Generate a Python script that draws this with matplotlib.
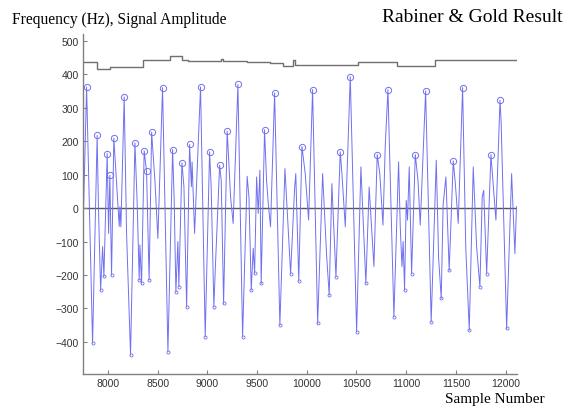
import matplotlib.pyplot as plt

# signal turning points (sample number, amplitude)
sig_x = [7750, 7786, 7846, 7892, 7906, 7927, 7947, 7960, 7993, 8007, 8020, 8037, 8060, 8088, 8114, 8121, 8131,
         8164, 8188, 8228, 8272, 8295, 8315, 8322, 8339, 8365, 8389, 8415, 8440, 8473, 8503, 8550, 8604, 8651,
         8667, 8684, 8704, 8714, 8745, 8765, 8792, 8822, 8840, 8847, 8872, 8932, 8979, 9023, 9039, 9066, 9080,
         9124, 9140, 9164, 9200, 9212, 9234, 9260, 9308, 9355, 9401, 9419, 9442, 9462, 9476, 9496, 9512, 9529,
         9542, 9576, 9596, 9616, 9636, 9677, 9730, 9781, 9798, 9838, 9878, 9890, 9920, 9952, 9985, 10019, 10059,
         10075, 10110, 10160, 10200, 10226, 10253, 10294, 10337, 10354, 10388, 10438, 10502, 10545, 10595, 10628,
         10676, 10709, 10735, 10767, 10790, 10817, 10877, 10924, 10941, 10958, 10970, 10984, 11001, 11014, 11031,
         11055, 11092, 11119, 11142, 11196, 11252, 11303, 11327, 11353, 11372, 11400, 11433, 11474, 11495, 11524,
         11568, 11600, 11635, 11675, 11709, 11742, 11765, 11780, 11810, 11853, 11875, 11903, 11944, 11955, 12011,
         12061, 12094, 12110]
sig_y = [-66, 362, -404, 217, -7, -245, -115, -204, 163, -76, 98, -200, 209, 73, -55, 4, -56,
         332, -76, -439, 195, 13, -215, -110, -225, 171, 110, -215, 227, 83, -91, 360, -429, 175,
         23, -250, -100, -235, 135, 64, -295, 190, 64, 138, -76, 362, -384, 168, 63, -295, -185,
         128, 83, -285, 230, 163, 33, -46, 370, -384, 95, 33, -245, -120, -195, 93, -16, 113,
         -225, 234, 83, 4, -56, 344, -350, 118, 23, -196, 58, 103, -218, 184, 103, -36, 354,
         133, -345, 103, -141, -260, 73, -205, 168, 103, -56, 393, -370, 123, -225, 63,
         -175, 160, 103, -51, 187, 354, -325, 138, -56, -175, -100, -245, 23, -36, 123,
         -196, 160, 83, -51, 350, -340, 143, -151, -270, 10, 93, -186, 141, 73, -46,
         360, -120, -365, 123, -116, -235, 33, 53, -196, 160, 73, -36, 322, 262, -360,
         103, -136, 4]

# peaks that carry a circle
circled = [7786, 7892, 7993, 8020, 8060, 8164, 8272, 8365, 8389, 8440, 8550, 8651, 8745, 8822, 8932,
           9023, 9124, 9200, 9308, 9576, 9677, 9952, 10059, 10337, 10438, 10709, 10817, 11092, 11196,
           11474, 11568, 11853, 11944]

# pitch estimate (step line)
freq_x = [7750, 7886, 8020, 8355, 8624, 8741, 8808, 9140, 9155, 9395, 9630, 9764, 9862, 9878, 10518,
          10904, 11290, 12110]
freq_y = [436, 416, 422, 443, 456, 443, 439, 447, 439, 436, 433, 426, 443, 428, 436, 426, 444, 444]

fig = plt.figure(figsize=(5.71, 4.10), dpi=100)
ax = fig.add_axes([0.1454, 0.0854, 0.760, 0.829])

ax.axhline(0, color='#555555', lw=1.0, zorder=1)
ax.plot(freq_x, freq_y, drawstyle='steps-post', color='#707070', lw=1.0)
ax.plot(sig_x, sig_y, color='#7070f0', lw=0.7, zorder=2)

px = [x for x, y in zip(sig_x, sig_y) if x in circled]
py = [y for x, y in zip(sig_x, sig_y) if x in circled]
ax.plot(px, py, 'o', ms=4.5, mfc='none', mec='#7070f0', mew=0.7, zorder=3)

# small marks at the deep troughs
tx, ty = [], []
for i in range(1, len(sig_y) - 1):
    if sig_y[i] < sig_y[i - 1] and sig_y[i] < sig_y[i + 1] and sig_y[i] < -180:
        tx.append(sig_x[i])
        ty.append(sig_y[i])
ax.plot(tx, ty, 'o', ms=2.2, mfc='none', mec='#7070f0', mew=0.6, zorder=3)

ax.set_xlim(7750, 12115)
ax.set_ylim(-496, 520)
ax.set_xticks([8000, 8500, 9000, 9500, 10000, 10500, 11000, 11500, 12000])
ax.set_yticks([-400, -300, -200, -100, 0, 100, 200, 300, 400, 500])

for s in ['top', 'right']:
    ax.spines[s].set_visible(False)
for s in ['left', 'bottom']:
    ax.spines[s].set_color('#808080')
    ax.spines[s].set_linewidth(1.0)
ax.tick_params(direction='in', length=3, color='#808080', labelsize=7.5, labelcolor='#333333',
               pad=3)
for lab in ax.get_xticklabels() + ax.get_yticklabels():
    lab.set_family('Liberation Sans')

fig.text(12 / 571, 1 - 20 / 410, 'Frequency (Hz), Signal Amplitude', family='Liberation Serif',
         fontsize=11.2, va='center', ha='left')
fig.text(563 / 571, 1 - 18 / 410, 'Rabiner & Gold Result', family='Liberation Serif',
         fontsize=14, va='center', ha='right')
fig.text(545 / 571, 1 - 400 / 410, 'Sample Number', family='Liberation Serif',
         fontsize=11, va='center', ha='right')

fig.savefig('out.png', dpi=100)
